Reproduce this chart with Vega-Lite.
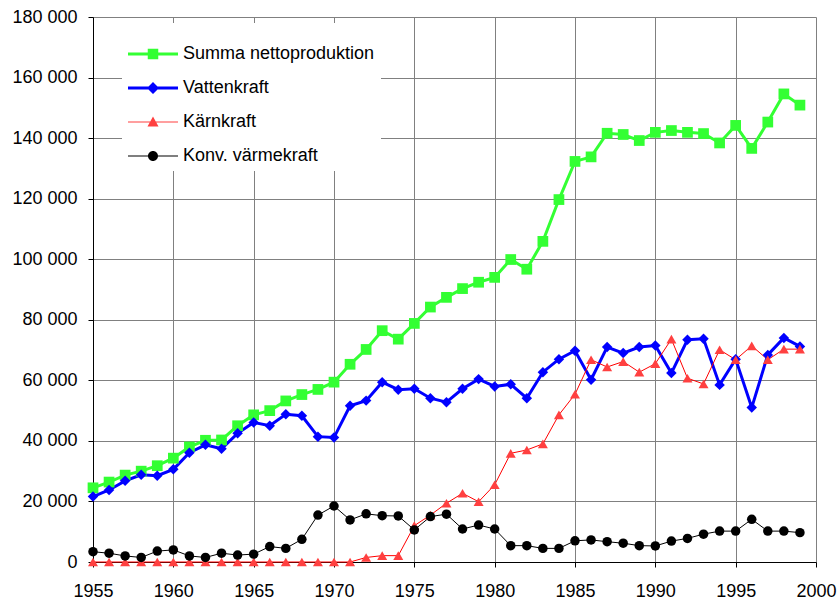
{
  "$schema": "https://vega.github.io/schema/vega-lite/v6.json",
  "autosize": "none",
  "width": 723,
  "height": 545,
  "padding": {"left": 93, "top": 17, "right": 22, "bottom": 46},
  "background": "white",
  "config": {
    "font": "Liberation Sans",
    "view": {"stroke": null},
    "axis": {"labelFont": "Liberation Sans", "labelFontSize": 18, "labelColor": "black", "gridColor": "#808080", "gridOpacity": 1, "gridWidth": 1, "domainColor": "black", "tickColor": "black", "tickSize": 5}
  },
  "datasets": {
    "prod": [
      {"year": 1955, "serie": "Summa nettoproduktion", "value": 24500},
      {"year": 1956, "serie": "Summa nettoproduktion", "value": 26400},
      {"year": 1957, "serie": "Summa nettoproduktion", "value": 28700},
      {"year": 1958, "serie": "Summa nettoproduktion", "value": 30000},
      {"year": 1959, "serie": "Summa nettoproduktion", "value": 31800},
      {"year": 1960, "serie": "Summa nettoproduktion", "value": 34300},
      {"year": 1961, "serie": "Summa nettoproduktion", "value": 38000},
      {"year": 1962, "serie": "Summa nettoproduktion", "value": 40200},
      {"year": 1963, "serie": "Summa nettoproduktion", "value": 40300},
      {"year": 1964, "serie": "Summa nettoproduktion", "value": 45000},
      {"year": 1965, "serie": "Summa nettoproduktion", "value": 48600},
      {"year": 1966, "serie": "Summa nettoproduktion", "value": 50000},
      {"year": 1967, "serie": "Summa nettoproduktion", "value": 53200},
      {"year": 1968, "serie": "Summa nettoproduktion", "value": 55300},
      {"year": 1969, "serie": "Summa nettoproduktion", "value": 57000},
      {"year": 1970, "serie": "Summa nettoproduktion", "value": 59400},
      {"year": 1971, "serie": "Summa nettoproduktion", "value": 65300},
      {"year": 1972, "serie": "Summa nettoproduktion", "value": 70200},
      {"year": 1973, "serie": "Summa nettoproduktion", "value": 76400},
      {"year": 1974, "serie": "Summa nettoproduktion", "value": 73600},
      {"year": 1975, "serie": "Summa nettoproduktion", "value": 78800},
      {"year": 1976, "serie": "Summa nettoproduktion", "value": 84200},
      {"year": 1977, "serie": "Summa nettoproduktion", "value": 87400},
      {"year": 1978, "serie": "Summa nettoproduktion", "value": 90300},
      {"year": 1979, "serie": "Summa nettoproduktion", "value": 92400},
      {"year": 1980, "serie": "Summa nettoproduktion", "value": 94000},
      {"year": 1981, "serie": "Summa nettoproduktion", "value": 99900},
      {"year": 1982, "serie": "Summa nettoproduktion", "value": 96700},
      {"year": 1983, "serie": "Summa nettoproduktion", "value": 105900},
      {"year": 1984, "serie": "Summa nettoproduktion", "value": 119700},
      {"year": 1985, "serie": "Summa nettoproduktion", "value": 132300},
      {"year": 1986, "serie": "Summa nettoproduktion", "value": 133800},
      {"year": 1987, "serie": "Summa nettoproduktion", "value": 141600},
      {"year": 1988, "serie": "Summa nettoproduktion", "value": 141200},
      {"year": 1989, "serie": "Summa nettoproduktion", "value": 139200},
      {"year": 1990, "serie": "Summa nettoproduktion", "value": 141900},
      {"year": 1991, "serie": "Summa nettoproduktion", "value": 142500},
      {"year": 1992, "serie": "Summa nettoproduktion", "value": 141900},
      {"year": 1993, "serie": "Summa nettoproduktion", "value": 141500},
      {"year": 1994, "serie": "Summa nettoproduktion", "value": 138400},
      {"year": 1995, "serie": "Summa nettoproduktion", "value": 144200},
      {"year": 1996, "serie": "Summa nettoproduktion", "value": 136600},
      {"year": 1997, "serie": "Summa nettoproduktion", "value": 145300},
      {"year": 1998, "serie": "Summa nettoproduktion", "value": 154600},
      {"year": 1999, "serie": "Summa nettoproduktion", "value": 150900},

      {"year": 1955, "serie": "Vattenkraft", "value": 21600},
      {"year": 1956, "serie": "Vattenkraft", "value": 23800},
      {"year": 1957, "serie": "Vattenkraft", "value": 26800},
      {"year": 1958, "serie": "Vattenkraft", "value": 28800},
      {"year": 1959, "serie": "Vattenkraft", "value": 28500},
      {"year": 1960, "serie": "Vattenkraft", "value": 30600},
      {"year": 1961, "serie": "Vattenkraft", "value": 36100},
      {"year": 1962, "serie": "Vattenkraft", "value": 38700},
      {"year": 1963, "serie": "Vattenkraft", "value": 37400},
      {"year": 1964, "serie": "Vattenkraft", "value": 42500},
      {"year": 1965, "serie": "Vattenkraft", "value": 46100},
      {"year": 1966, "serie": "Vattenkraft", "value": 45000},
      {"year": 1967, "serie": "Vattenkraft", "value": 48800},
      {"year": 1968, "serie": "Vattenkraft", "value": 48300},
      {"year": 1969, "serie": "Vattenkraft", "value": 41400},
      {"year": 1970, "serie": "Vattenkraft", "value": 41100},
      {"year": 1971, "serie": "Vattenkraft", "value": 51600},
      {"year": 1972, "serie": "Vattenkraft", "value": 53300},
      {"year": 1973, "serie": "Vattenkraft", "value": 59400},
      {"year": 1974, "serie": "Vattenkraft", "value": 56900},
      {"year": 1975, "serie": "Vattenkraft", "value": 57200},
      {"year": 1976, "serie": "Vattenkraft", "value": 54100},
      {"year": 1977, "serie": "Vattenkraft", "value": 52800},
      {"year": 1978, "serie": "Vattenkraft", "value": 57200},
      {"year": 1979, "serie": "Vattenkraft", "value": 60400},
      {"year": 1980, "serie": "Vattenkraft", "value": 58000},
      {"year": 1981, "serie": "Vattenkraft", "value": 58700},
      {"year": 1982, "serie": "Vattenkraft", "value": 54100},
      {"year": 1983, "serie": "Vattenkraft", "value": 62700},
      {"year": 1984, "serie": "Vattenkraft", "value": 67000},
      {"year": 1985, "serie": "Vattenkraft", "value": 69800},
      {"year": 1986, "serie": "Vattenkraft", "value": 60200},
      {"year": 1987, "serie": "Vattenkraft", "value": 71000},
      {"year": 1988, "serie": "Vattenkraft", "value": 69000},
      {"year": 1989, "serie": "Vattenkraft", "value": 71000},
      {"year": 1990, "serie": "Vattenkraft", "value": 71500},
      {"year": 1991, "serie": "Vattenkraft", "value": 62400},
      {"year": 1992, "serie": "Vattenkraft", "value": 73400},
      {"year": 1993, "serie": "Vattenkraft", "value": 73700},
      {"year": 1994, "serie": "Vattenkraft", "value": 58500},
      {"year": 1995, "serie": "Vattenkraft", "value": 67000},
      {"year": 1996, "serie": "Vattenkraft", "value": 51000},
      {"year": 1997, "serie": "Vattenkraft", "value": 68400},
      {"year": 1998, "serie": "Vattenkraft", "value": 74000},
      {"year": 1999, "serie": "Vattenkraft", "value": 71200},

      {"year": 1955, "serie": "Kärnkraft", "value": 0},
      {"year": 1956, "serie": "Kärnkraft", "value": 0},
      {"year": 1957, "serie": "Kärnkraft", "value": 0},
      {"year": 1958, "serie": "Kärnkraft", "value": 0},
      {"year": 1959, "serie": "Kärnkraft", "value": 0},
      {"year": 1960, "serie": "Kärnkraft", "value": 0},
      {"year": 1961, "serie": "Kärnkraft", "value": 0},
      {"year": 1962, "serie": "Kärnkraft", "value": 0},
      {"year": 1963, "serie": "Kärnkraft", "value": 0},
      {"year": 1964, "serie": "Kärnkraft", "value": 0},
      {"year": 1965, "serie": "Kärnkraft", "value": 0},
      {"year": 1966, "serie": "Kärnkraft", "value": 0},
      {"year": 1967, "serie": "Kärnkraft", "value": 0},
      {"year": 1968, "serie": "Kärnkraft", "value": 0},
      {"year": 1969, "serie": "Kärnkraft", "value": 0},
      {"year": 1970, "serie": "Kärnkraft", "value": 0},
      {"year": 1971, "serie": "Kärnkraft", "value": 0},
      {"year": 1972, "serie": "Kärnkraft", "value": 1500},
      {"year": 1973, "serie": "Kärnkraft", "value": 2100},
      {"year": 1974, "serie": "Kärnkraft", "value": 2100},
      {"year": 1975, "serie": "Kärnkraft", "value": 12000},
      {"year": 1976, "serie": "Kärnkraft", "value": 15500},
      {"year": 1977, "serie": "Kärnkraft", "value": 19400},
      {"year": 1978, "serie": "Kärnkraft", "value": 22700},
      {"year": 1979, "serie": "Kärnkraft", "value": 19900},
      {"year": 1980, "serie": "Kärnkraft", "value": 25500},
      {"year": 1981, "serie": "Kärnkraft", "value": 35900},
      {"year": 1982, "serie": "Kärnkraft", "value": 37000},
      {"year": 1983, "serie": "Kärnkraft", "value": 39000},
      {"year": 1984, "serie": "Kärnkraft", "value": 48600},
      {"year": 1985, "serie": "Kärnkraft", "value": 55400},
      {"year": 1986, "serie": "Kärnkraft", "value": 66800},
      {"year": 1987, "serie": "Kärnkraft", "value": 64400},
      {"year": 1988, "serie": "Kärnkraft", "value": 66200},
      {"year": 1989, "serie": "Kärnkraft", "value": 62700},
      {"year": 1990, "serie": "Kärnkraft", "value": 65500},
      {"year": 1991, "serie": "Kärnkraft", "value": 73600},
      {"year": 1992, "serie": "Kärnkraft", "value": 60700},
      {"year": 1993, "serie": "Kärnkraft", "value": 58800},
      {"year": 1994, "serie": "Kärnkraft", "value": 70100},
      {"year": 1995, "serie": "Kärnkraft", "value": 66800},
      {"year": 1996, "serie": "Kärnkraft", "value": 71400},
      {"year": 1997, "serie": "Kärnkraft", "value": 66800},
      {"year": 1998, "serie": "Kärnkraft", "value": 70300},
      {"year": 1999, "serie": "Kärnkraft", "value": 70300},

      {"year": 1955, "serie": "Konv. värmekraft", "value": 3400},
      {"year": 1956, "serie": "Konv. värmekraft", "value": 2900},
      {"year": 1957, "serie": "Konv. värmekraft", "value": 2000},
      {"year": 1958, "serie": "Konv. värmekraft", "value": 1500},
      {"year": 1959, "serie": "Konv. värmekraft", "value": 3600},
      {"year": 1960, "serie": "Konv. värmekraft", "value": 4000},
      {"year": 1961, "serie": "Konv. värmekraft", "value": 2000},
      {"year": 1962, "serie": "Konv. värmekraft", "value": 1500},
      {"year": 1963, "serie": "Konv. värmekraft", "value": 2900},
      {"year": 1964, "serie": "Konv. värmekraft", "value": 2300},
      {"year": 1965, "serie": "Konv. värmekraft", "value": 2600},
      {"year": 1966, "serie": "Konv. värmekraft", "value": 5100},
      {"year": 1967, "serie": "Konv. värmekraft", "value": 4500},
      {"year": 1968, "serie": "Konv. värmekraft", "value": 7500},
      {"year": 1969, "serie": "Konv. värmekraft", "value": 15500},
      {"year": 1970, "serie": "Konv. värmekraft", "value": 18500},
      {"year": 1971, "serie": "Konv. värmekraft", "value": 13900},
      {"year": 1972, "serie": "Konv. värmekraft", "value": 15900},
      {"year": 1973, "serie": "Konv. värmekraft", "value": 15300},
      {"year": 1974, "serie": "Konv. värmekraft", "value": 15200},
      {"year": 1975, "serie": "Konv. värmekraft", "value": 10600},
      {"year": 1976, "serie": "Konv. värmekraft", "value": 15000},
      {"year": 1977, "serie": "Konv. värmekraft", "value": 15800},
      {"year": 1978, "serie": "Konv. värmekraft", "value": 10900},
      {"year": 1979, "serie": "Konv. värmekraft", "value": 12200},
      {"year": 1980, "serie": "Konv. värmekraft", "value": 10900},
      {"year": 1981, "serie": "Konv. värmekraft", "value": 5400},
      {"year": 1982, "serie": "Konv. värmekraft", "value": 5400},
      {"year": 1983, "serie": "Konv. värmekraft", "value": 4500},
      {"year": 1984, "serie": "Konv. värmekraft", "value": 4500},
      {"year": 1985, "serie": "Konv. värmekraft", "value": 7000},
      {"year": 1986, "serie": "Konv. värmekraft", "value": 7300},
      {"year": 1987, "serie": "Konv. värmekraft", "value": 6700},
      {"year": 1988, "serie": "Konv. värmekraft", "value": 6200},
      {"year": 1989, "serie": "Konv. värmekraft", "value": 5400},
      {"year": 1990, "serie": "Konv. värmekraft", "value": 5300},
      {"year": 1991, "serie": "Konv. värmekraft", "value": 6900},
      {"year": 1992, "serie": "Konv. värmekraft", "value": 7800},
      {"year": 1993, "serie": "Konv. värmekraft", "value": 9200},
      {"year": 1994, "serie": "Konv. värmekraft", "value": 10200},
      {"year": 1995, "serie": "Konv. värmekraft", "value": 10200},
      {"year": 1996, "serie": "Konv. värmekraft", "value": 14100},
      {"year": 1997, "serie": "Konv. värmekraft", "value": 10200},
      {"year": 1998, "serie": "Konv. värmekraft", "value": 10200},
      {"year": 1999, "serie": "Konv. värmekraft", "value": 9700}
    ]
  },
  "data": {"name": "prod"},
  "encoding": {
    "x": {
      "field": "year", "type": "quantitative",
      "scale": {"domain": [1955, 2000], "nice": false, "zero": false},
      "axis": {"title": null, "values": [1955, 1960, 1965, 1970, 1975, 1980, 1985, 1990, 1995, 2000], "format": "d", "labelPadding": 15, "labelFlush": false, "grid": true}
    },
    "y": {
      "field": "value", "type": "quantitative",
      "scale": {"domain": [0, 180000], "nice": false},
      "axis": {"title": null, "values": [0, 20000, 40000, 60000, 80000, 100000, 120000, 140000, 160000, 180000], "labelExpr": "replace(format(datum.value, ','), ',', ' ')", "labelPadding": 11, "labelFlush": false, "grid": true}
    },
    "color": {
      "field": "serie", "type": "nominal",
      "scale": {
        "domain": ["Summa nettoproduktion", "Vattenkraft", "Kärnkraft", "Konv. värmekraft"],
        "range": ["#33ff33", "#0000ff", "#ff4040", "#000000"]
      },
      "legend": {
        "title": null,
        "orient": "none",
        "legendX": 29,
        "legendY": 6,
        "fillColor": "white",
        "padding": 6,
        "labelFont": "Liberation Sans",
        "labelFontSize": 18,
        "labelColor": "black",
        "labelLimit": 400,
        "labelOffset": 5,
        "symbolSize": 2500,
        "rowPadding": -16,
        "symbolType": "circle",
        "encode": {
          "symbols": {
            "update": {
              "shape": {"signal": "datum.value === 'Summa nettoproduktion' ? 'M-1,-0.06H1V0.06H-1ZM-0.21,-0.21H0.21V0.21H-0.21Z' : datum.value === 'Vattenkraft' ? 'M-1,-0.06H1V0.06H-1ZM0,-0.24L0.24,0L0,0.24L-0.24,0Z' : datum.value === 'Kärnkraft' ? 'M-1,-0.02H1V0.02H-1ZM0,-0.22L0.22,0.18L-0.22,0.18Z' : 'M-1,-0.02H1V0.02H-1ZM0.2,0A0.2,0.2,0,1,1,-0.2,0A0.2,0.2,0,1,1,0.2,0Z'"},
              "fill": {"signal": "scale('color', datum.value)"},
              "fillOpacity": {"value": 1},
              "strokeWidth": {"value": 0},
              "opacity": {"value": 1}
            }
          }
        }
      }
    }
  },
  "layer": [
    {
      "mark": {"type": "line", "strokeWidth": 3},
      "transform": [{"filter": "datum.serie === 'Summa nettoproduktion' || datum.serie === 'Vattenkraft'"}],
      "encoding": {"detail": {"field": "serie"}}
    },
    {
      "mark": {"type": "line", "strokeWidth": 1},
      "transform": [{"filter": "datum.serie === 'Kärnkraft'"}],
      "encoding": {"color": {"value": "#ff0000"}}
    },
    {
      "mark": {"type": "line", "strokeWidth": 1},
      "transform": [{"filter": "datum.serie === 'Konv. värmekraft'"}],
      "encoding": {}
    },
    {
      "mark": {"type": "point", "filled": true, "size": 115, "opacity": 1, "shape": "square"},
      "transform": [{"filter": "datum.serie === 'Summa nettoproduktion'"}],
      "encoding": {}
    },
    {
      "mark": {"type": "point", "filled": true, "size": 110, "opacity": 1, "shape": "diamond"},
      "transform": [{"filter": "datum.serie === 'Vattenkraft'"}],
      "encoding": {}
    },
    {
      "mark": {"type": "point", "filled": true, "size": 100, "opacity": 1, "shape": "triangle-up"},
      "transform": [{"filter": "datum.serie === 'Kärnkraft'"}],
      "encoding": {}
    },
    {
      "mark": {"type": "point", "filled": true, "size": 90, "opacity": 1, "shape": "circle"},
      "transform": [{"filter": "datum.serie === 'Konv. värmekraft'"}],
      "encoding": {}
    }
  ]
}
